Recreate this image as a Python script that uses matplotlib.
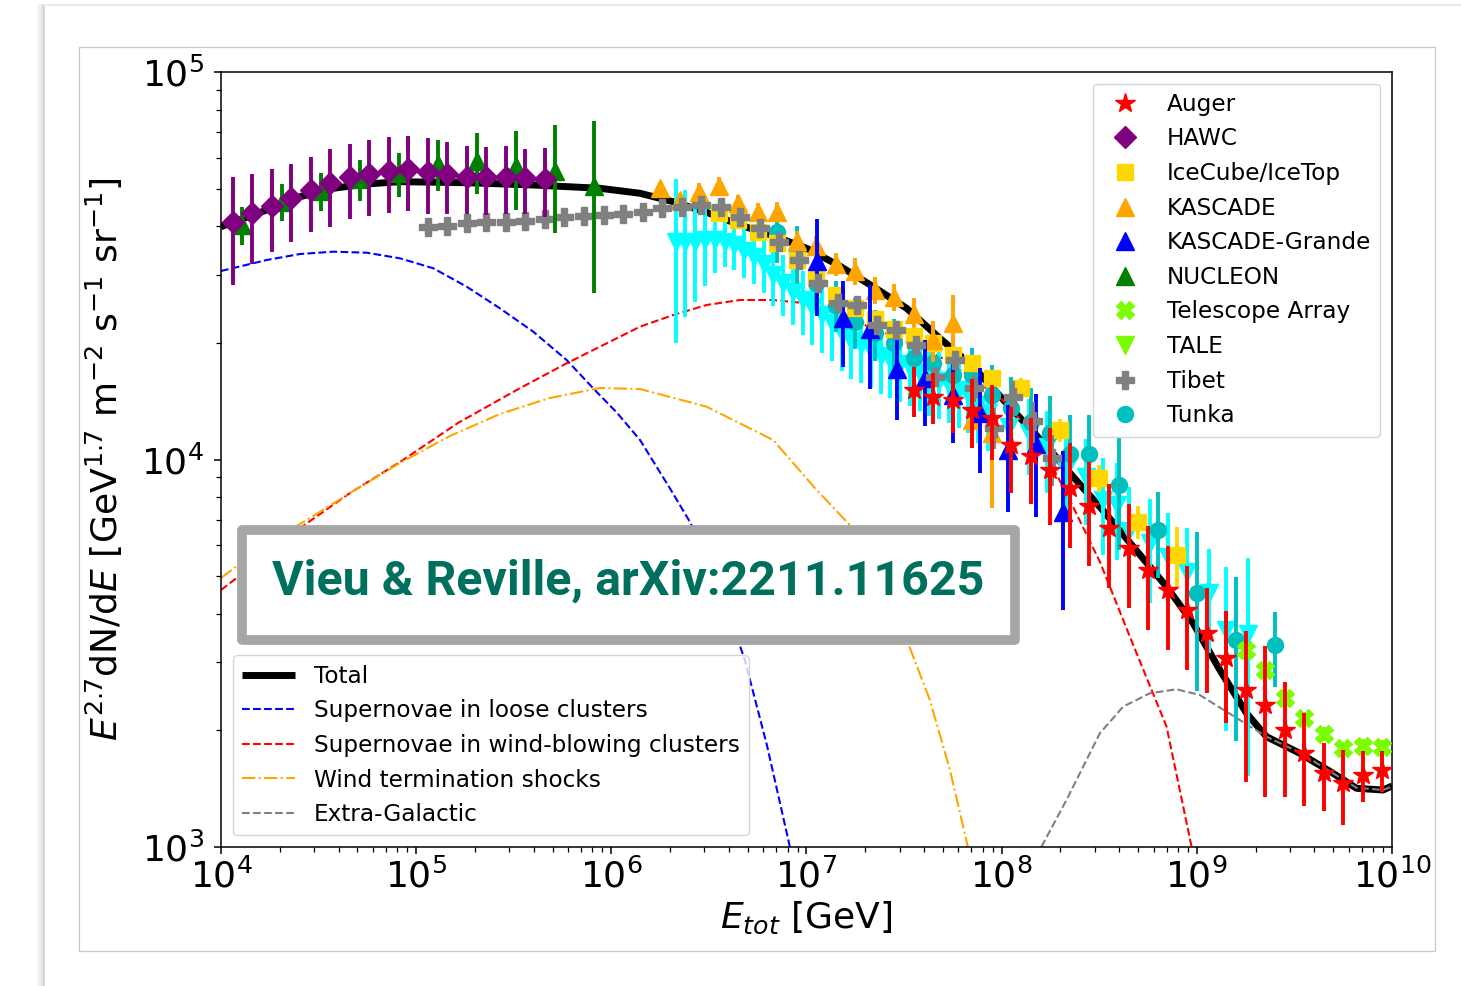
import numpy as np
import matplotlib
matplotlib.use('Agg')
import matplotlib.pyplot as plt
from matplotlib.lines import Line2D
from matplotlib.patches import Rectangle
from matplotlib import font_manager
from matplotlib.font_manager import FontProperties

# ---------------- data (log10 E in GeV, flux E^2.7 dN/dE) ----------------
hawc_logE = [4.06, 4.16, 4.26, 4.36, 4.46, 4.56, 4.66, 4.76, 4.86, 4.96, 5.06, 5.16, 5.26, 5.36, 5.46, 5.56, 5.66]
hawc_F = [40900, 43200, 45200, 47200, 49600, 51600, 53500, 54600, 55600, 56100, 55300, 54600, 53700, 53500, 53700, 53200, 52900]
hawc_err = [0.31, 0.26, 0.24, 0.23, 0.22, 0.23, 0.22, 0.22, 0.22, 0.22, 0.22, 0.21, 0.20, 0.20, 0.20, 0.19, 0.20]

nucleon_logE = [4.11, 4.31, 4.51, 4.71, 4.91, 5.11, 5.31, 5.51, 5.71, 5.91]
nucleon_F = [40300, 46300, 49300, 52900, 54800, 57900, 59000, 57200, 55600, 50800]
nucleon_err = [0.11, 0.11, 0.11, 0.12, 0.13, 0.15, 0.18, 0.23, 0.31, 0.47]

tibet_logE = [5.06, 5.16, 5.26, 5.36, 5.46, 5.56, 5.66, 5.76, 5.86, 5.96, 6.06, 6.16, 6.26, 6.36, 6.46, 6.56,
              6.66, 6.76, 6.86, 6.96, 7.06, 7.16, 7.26, 7.36, 7.46, 7.56, 7.66, 7.76, 7.86, 7.96, 8.06, 8.16, 8.26]
tibet_F = [39900, 40060, 40850, 40940, 41100, 41340, 41690, 42170, 42500, 42760, 43000, 43600, 44490, 44910,
           45370, 44910, 42330, 39510, 36490, 32720, 28490, 25300, 25050, 22240, 21590, 19750, 16360, 18060,
           15270, 12090, 14520, 12570, 10070]
tibet_err = [0.03] * 27 + [0.05, 0.08, 0.12, 0.1, 0.12, 0.15]

kascade_logE = [6.25, 6.35, 6.45, 6.55, 6.65, 6.75, 6.85, 6.95, 7.05, 7.15, 7.25, 7.35, 7.45, 7.55, 7.65, 7.75, 7.85, 7.95]
kascade_F = [50100, 46740, 49110, 50940, 45830, 43600, 43600, 36640, 35560, 31950, 30660, 27380, 26310, 23790,
             20340, 22470, 12650, 11680]
kascade_err = [0.04, 0.04, 0.05, 0.05, 0.05, 0.05, 0.06, 0.06, 0.06, 0.07, 0.08, 0.08, 0.08, 0.10, 0.12, 0.18, 0.15, 0.36]

kg_logE = [7.056, 7.189, 7.325, 7.463, 7.607, 7.75, 7.888, 8.032, 8.178, 8.315]
kg_F = [32530, 23140, 21720, 17120, 16230, 14670, 13220, 10580, 10960, 7320]
kg_err = [0.28, 0.25, 0.3, 0.26, 0.25, 0.25, 0.3, 0.31, 0.35, 0.44]

icecube_logE = [6.55, 6.65, 6.75, 6.85, 6.95, 7.05, 7.15, 7.25, 7.35, 7.45, 7.55, 7.65, 7.75, 7.85, 7.95,
                8.1, 8.3, 8.5, 8.7, 8.9]
icecube_F = [43190, 41510, 38710, 36130, 32720, 29630, 26580, 24560, 22980, 21680, 20890, 19950, 18610, 17740,
             16200, 15290, 11920, 8985, 6915, 5669]
icecube_err = [0.03] * 13 + [0.04, 0.05, 0.06, 0.07, 0.08, 0.10, 0.18]

tunka_logE = [6.85, 6.95, 7.05, 7.15, 7.25, 7.35, 7.45, 7.55, 7.65, 7.75, 7.85, 7.95, 8.05, 8.15, 8.25,
              8.35, 8.45, 8.6, 8.8, 9.0, 9.2, 9.4]
tunka_F = [38750, 34210, 28540, 25050, 22680, 21170, 20040, 18330, 17710, 16520, 16480, 14630, 13620, 12520,
           11680, 10330, 10330, 8595, 6579, 4515, 3421, 3321]
tunka_err = [0.17, 0.17, 0.15, 0.15, 0.15, 0.15, 0.15, 0.15, 0.16, 0.17, 0.18, 0.2, 0.2, 0.22, 0.25, 0.26,
             0.26, 0.32, 0.25, 0.44, 0.45, 0.22]

tale_logE = [6.33, 6.38, 6.43, 6.48, 6.53, 6.58, 6.63, 6.68, 6.73, 6.78, 6.83, 6.88, 6.93, 6.98, 7.03, 7.08,
             7.13, 7.18, 7.23, 7.28, 7.33, 7.38, 7.43, 7.48, 7.53, 7.58, 7.63, 7.68, 7.73, 7.78, 7.83, 7.88, 7.93,
             8.04, 8.14, 8.23, 8.33, 8.43, 8.52, 8.59, 8.65, 8.76, 8.85, 8.95, 9.06, 9.15, 9.26]
tale_F = [36420, 36420, 36420, 36860, 36860, 36420, 35770, 34530, 33320, 31950, 29930, 28540, 27060, 25800,
          24750, 23600, 22510, 21210, 20220, 19750, 19170, 18500, 18060, 17640, 17220, 16720, 16230, 15940,
          15570, 15110, 14670, 13820, 13180,
          12130, 11710, 10770, 9395, 9012, 7864, 7634, 6539, 6088, 5604, 5125, 4524, 3631, 3546]
tale_err = [0.45, 0.36, 0.3, 0.24, 0.18, 0.14, 0.14, 0.15, 0.15, 0.16, 0.17, 0.18, 0.18, 0.19, 0.2, 0.2,
            0.2, 0.2, 0.2, 0.2, 0.2, 0.2, 0.2, 0.2, 0.2, 0.2, 0.2, 0.2, 0.2, 0.2, 0.2, 0.2, 0.2,
            0.22, 0.22, 0.24, 0.25, 0.25, 0.28, 0.28, 0.3, 0.3, 0.3, 0.3, 0.3, 0.45, 0.57]

auger_logE = [7.55, 7.65, 7.75, 7.85, 7.95, 8.05, 8.15, 8.25, 8.35, 8.45, 8.55, 8.65, 8.75, 8.85, 8.95,
              9.05, 9.15, 9.25, 9.35, 9.45, 9.55, 9.65, 9.75, 9.85, 9.95]
auger_F = [15110, 14520, 14240, 13420, 12770, 10900, 10210, 9395, 8466, 7586, 6645, 5899, 5185, 4604, 4089,
           3577, 3074, 2543, 2326, 2004, 1745, 1550, 1460, 1534, 1580]
auger_err = [0.15, 0.15, 0.18, 0.2, 0.22, 0.25, 0.25, 0.28, 0.3, 0.3, 0.3, 0.3, 0.3, 0.3, 0.3, 0.3, 0.32,
             0.42, 0.42, 0.33, 0.27, 0.2, 0.22, 0.15, 0.12]

ta_logE = [9.25, 9.35, 9.45, 9.55, 9.65, 9.75, 9.85, 9.95]
ta_F = [3224, 2862, 2420, 2148, 1957, 1798, 1826, 1815]
ta_err = [0.04] * 8

# model curves (log10 E, log10 flux)
total_logE = [4.0, 4.234, 4.405, 4.575, 4.746, 4.917, 5.259, 5.6, 5.942, 6.147, 6.317, 6.488, 6.659, 6.83,
              7.001, 7.171, 7.342, 7.513, 7.683, 7.854, 8.025, 8.247, 8.366, 8.52, 8.674, 8.845, 8.981, 9.118,
              9.255, 9.357, 9.528, 9.698, 9.818, 9.954, 10.0]
total_logF = [4.6008, 4.6439, 4.6782, 4.6999, 4.711, 4.7169, 4.7143, 4.7084, 4.6999, 4.687, 4.6653, 4.638,
              4.6052, 4.577, 4.545, 4.499, 4.4459, 4.3902, 4.3128, 4.2395, 4.145, 4.0245, 3.9556, 3.868,
              3.775, 3.6717, 3.5773, 3.4568, 3.345, 3.2847, 3.2418, 3.1902, 3.1515, 3.1471, 3.1574]

loose_logE = [4.0, 4.234, 4.405, 4.575, 4.746, 4.917, 5.088, 5.259, 5.429, 5.6, 5.771, 5.907, 6.03, 6.147,
              6.3, 6.403, 6.55, 6.684, 6.797, 6.915]
loose_logF = [4.4865, 4.5148, 4.5303, 4.5363, 4.5337, 4.5192, 4.4934, 4.4459, 4.3902, 4.3298, 4.2568, 4.1837,
              4.12, 4.0503, 3.9257, 3.8387, 3.68, 3.4826, 3.2632, 3.0]

wind_logE = [4.0, 4.2, 4.405, 4.661, 4.917, 5.214, 5.515, 5.771, 6.147, 6.317, 6.488, 6.659, 6.829, 7.001,
             7.171, 7.342, 7.513, 7.683, 7.854, 8.025, 8.196, 8.332, 8.503, 8.674, 8.845, 8.973]
wind_logF = [3.6632, 3.7406, 3.8232, 3.9135, 3.9935, 4.0942, 4.1794, 4.2483, 4.3427, 4.3729, 4.3987, 4.4116,
             4.4116, 4.4031, 4.3729, 4.338, 4.304, 4.2653, 4.2095, 4.145, 4.0418, 3.9128, 3.7363, 3.5213,
             3.3105, 3.0008]

wts_logE = [4.0, 4.225, 4.456, 4.686, 4.917, 5.173, 5.429, 5.685, 5.942, 6.147, 6.488, 6.829, 7.052, 7.222,
            7.376, 7.53, 7.632, 7.735, 7.827]
wts_logF = [3.6942, 3.7794, 3.849, 3.9213, 3.991, 4.0606, 4.1174, 4.1587, 4.1845, 4.1819, 4.1363, 4.0503,
            3.9213, 3.831, 3.689, 3.5135, 3.3794, 3.1987, 3.0]

eg_logE = [8.204, 8.332, 8.503, 8.622, 8.759, 8.896, 9.015, 9.152, 9.357, 9.528, 9.698, 9.818, 9.954, 9.997]
eg_logF = [3.0008, 3.1213, 3.2934, 3.3621, 3.3966, 3.407, 3.3923, 3.3492, 3.2847, 3.2434, 3.1902, 3.153,
           3.1471, 3.1556]

# ---------------- figure ----------------
W, H = 1461, 986
fig = plt.figure(figsize=(W / 100, H / 100), dpi=100)

# page decorations
fig.add_artist(Rectangle((79 / W, 1 - 951 / H), (1435 - 79) / W, (951 - 47) / H, transform=fig.transFigure,
                         fill=False, edgecolor='#c8c8c8', lw=0.9, zorder=0))
for dx, col in [(38, '#f4f4f4'), (40, '#ececec'), (42, '#dddddd'), (44, '#cfcfcf')]:
    fig.add_artist(Line2D([dx / W, dx / W], [0, 1 - 5 / H], transform=fig.transFigure, color=col, lw=1.2))
fig.add_artist(Line2D([44 / W, 1], [1 - 5 / H, 1 - 5 / H], transform=fig.transFigure, color='#e6e6e6', lw=1.2))

ax = fig.add_axes([221 / W, 1 - 847 / H, (1392 - 221) / W, (847 - 72) / H])
ax.set_xscale('log')
ax.set_yscale('log')

p = lambda a: 10 ** np.asarray(a, dtype=float)

l_tot, = ax.plot(p(total_logE), p(total_logF), color='black', lw=5, solid_capstyle='butt', zorder=2)
l_loose, = ax.plot(p(loose_logE), p(loose_logF), color='blue', ls='--', lw=1.5, zorder=2)
l_wind, = ax.plot(p(wind_logE), p(wind_logF), color='red', ls='--', lw=1.5, zorder=2)
l_wts, = ax.plot(p(wts_logE), p(wts_logF), color='orange', ls='-.', lw=1.5, zorder=2)
l_eg, = ax.plot(p(eg_logE), p(eg_logF), color='gray', ls='--', lw=1.5, zorder=2.1)


def eb(logE, F, frac, marker, color, ms, z):
    F = np.asarray(F, dtype=float)
    ax.errorbar(p(logE), F, yerr=F * np.asarray(frac), fmt=marker, color=color, mec=color, mfc=color,
                ms=ms, elinewidth=2.8, capsize=0, zorder=z)


eb(tale_logE, tale_F, tale_err, 'v', 'cyan', 12.5, 3)
eb(tunka_logE, tunka_F, tunka_err, 'o', 'c', 11.5, 3.1)
eb(icecube_logE, icecube_F, icecube_err, 's', 'gold', 12, 3.2)
eb(kascade_logE, kascade_F, kascade_err, '^', 'orange', 13, 3.3)
eb(kg_logE, kg_F, kg_err, '^', 'blue', 13, 3.4)
eb(tibet_logE, tibet_F, tibet_err, 'P', 'gray', 12.5, 3.5)
eb(nucleon_logE, nucleon_F, nucleon_err, '^', 'green', 13, 3.6)
eb(hawc_logE, hawc_F, hawc_err, 'D', 'purple', 11.7, 3.7)
eb(ta_logE, ta_F, ta_err, 'X', 'lawngreen', 12.5, 3.8)
eb(auger_logE, auger_F, auger_err, '*', 'red', 15, 3.9)

ax.set_xlim(1e4, 1e10)
ax.set_ylim(1e3, 1e5)

ax.tick_params(which='major', direction='out', length=5, width=1.1, labelsize=26, top=False, right=False)
ax.tick_params(which='minor', direction='out', length=3.5, width=0.9, top=False, right=False)
ax.tick_params(axis='y', which='major', pad=7)
ax.tick_params(axis='x', which='major', pad=3)
for s in ax.spines.values():
    s.set_linewidth(1.1)

ax.set_xlabel(r'$E_{tot}$ [GeV]', fontsize=26, labelpad=4)
ax.set_ylabel(r'$E^{2.7}$dN/d$E$ [GeV$^{1.7}$ m$^{-2}$ s$^{-1}$ sr$^{-1}$]', fontsize=26, labelpad=12)

# legends
names = ['Auger', 'HAWC', 'IceCube/IceTop', 'KASCADE', 'KASCADE-Grande', 'NUCLEON', 'Telescope Array',
         'TALE', 'Tibet', 'Tunka']
mk = [('*', 'red', 15), ('D', 'purple', 11.7), ('s', 'gold', 12), ('^', 'orange', 13), ('^', 'blue', 13),
      ('^', 'green', 13), ('X', 'lawngreen', 12.5), ('v', 'lawngreen', 12.5), ('P', 'gray', 12.5),
      ('o', 'c', 11.5)]
handles = [Line2D([], [], ls='none', marker=m, color=c, ms=s) for m, c, s in mk]
leg1 = ax.legend(handles, names, loc='upper right', fontsize=16.7, labelspacing=0.5, handlelength=2.0,
                 borderpad=0.4)
ax.add_artist(leg1)
ax.legend([l_tot, l_loose, l_wind, l_wts, l_eg],
          ['Total', 'Supernovae in loose clusters', 'Supernovae in wind-blowing clusters',
           'Wind termination shocks', 'Extra-Galactic'],
          loc='lower left', fontsize=16.7, labelspacing=0.5, handlelength=2.3, borderpad=0.4)

# annotation box
fig.add_artist(Rectangle((242 / W, 1 - 640 / H), (1015 - 242) / W, (640 - 530) / H, transform=fig.transFigure,
                         facecolor='white', edgecolor='#a6a6a6', lw=7, joinstyle='round', zorder=9))

fnames = {f.name for f in font_manager.fontManager.ttflist}
fam = 'Roboto' if 'Roboto' in fnames else ('Liberation Sans' if 'Liberation Sans' in fnames else 'DejaVu Sans')
fp = FontProperties(family=fam, weight='bold', size=40)
t = fig.text(628.5 / W, 1 - 582 / H, 'Vieu & Reville, arXiv:2211.11625', fontproperties=fp,
             color='#00705e', ha='center', va='center', zorder=10)
fig.canvas.draw()
bb = t.get_window_extent()
scale = min(712 / bb.width, 66 / bb.height)
t.set_fontsize(40 * scale)

fig.savefig('out.png', dpi=100)
